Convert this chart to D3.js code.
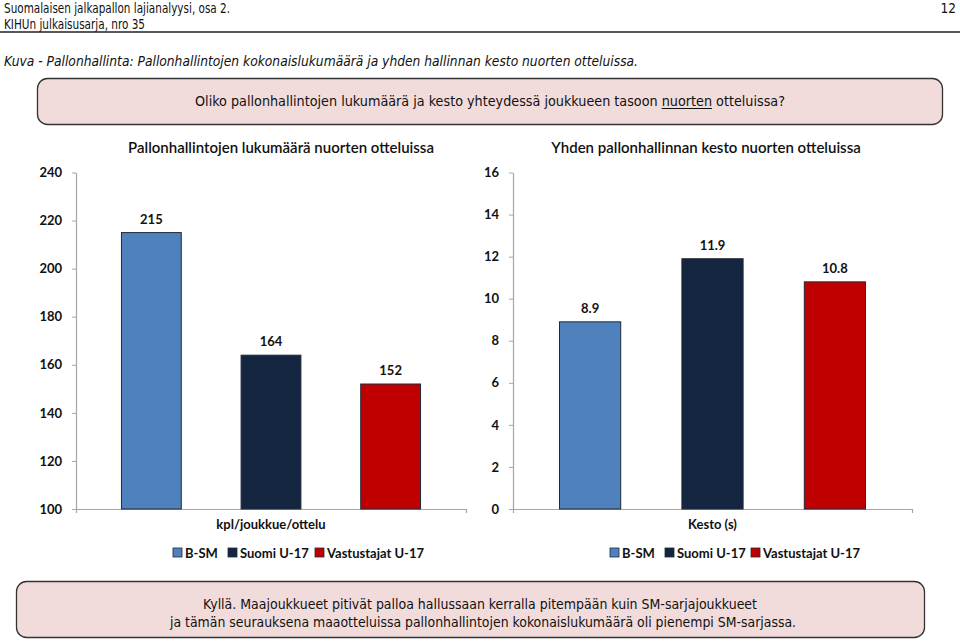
<!DOCTYPE html>
<html><head><meta charset="utf-8">
<script src="https://cdn.jsdelivr.net/npm/d3@7"></script>
<style>
body{margin:0;background:#fff;}
svg{display:block;}
.hdr{font-family:"DejaVu Sans Condensed","DejaVu Sans",sans-serif;fill:#111;}
.ch{font-family:Lato,"Open Sans",sans-serif;fill:#111;}
</style></head>
<body>
<script>
// ---- data ----
const series = ["B-SM", "Suomi U-17", "Vastustajat U-17"];
const colors = ["#4f81bd", "#14253f", "#c00000"];
const countValues = [215, 164, 152];
const durationValues = [8.9, 11.9, 10.8];
const countTicks = [100, 120, 140, 160, 180, 200, 220, 240];
const durationTicks = [0, 2, 4, 6, 8, 10, 12, 14, 16];
const leftTitle = "Pallonhallintojen lukumäärä nuorten otteluissa";
const rightTitle = "Yhden pallonhallinnan kesto nuorten otteluissa";
const leftAxisTitle = "kpl/joukkue/ottelu";
const rightAxisTitle = "Kesto (s)";

const W = 960, H = 641;
const svg = d3.select("body").append("svg").attr("width", W).attr("height", H);

// ---- page header ----
function fitText(sel, len){ sel.attr("textLength", len).attr("lengthAdjust","spacingAndGlyphs"); return sel; }
fitText(svg.append("text").attr("class","hdr").attr("x",4).attr("y",13).attr("font-size",13.5)
  .text("Suomalaisen jalkapallon lajianalyysi, osa 2."), 226);
fitText(svg.append("text").attr("class","hdr").attr("x",4).attr("y",29).attr("font-size",13.5)
  .text("KIHUn julkaisusarja, nro 35"), 141);
svg.append("text").attr("class","hdr").attr("x",956).attr("y",13).attr("font-size",13.5)
  .attr("text-anchor","end").text("12");
svg.append("line").attr("x1",0).attr("x2",W).attr("y1",32).attr("y2",32).attr("stroke","#222").attr("stroke-width",1.6);
fitText(svg.append("text").attr("class","hdr").attr("x",4).attr("y",66).attr("font-size",14)
  .attr("font-style","italic")
  .text("Kuva - Pallonhallinta: Pallonhallintojen kokonaislukumäärä ja yhden hallinnan kesto nuorten otteluissa."), 634);

// question box
svg.append("rect").attr("x",37.5).attr("y",78.5).attr("width",905).attr("height",46).attr("rx",10)
  .attr("fill","#f2dcdb").attr("stroke","#333").attr("stroke-width",1.3);
const qStr = "Oliko pallonhallintojen lukumäärä ja kesto yhteydessä joukkueen tasoon nuorten otteluissa?";
const q = svg.append("text").attr("class","hdr").attr("x",490).attr("y",106).attr("font-size",14.5)
  .attr("text-anchor","middle").text(qStr);
fitText(q, 590);
// underline the word "nuorten"
{
  const node = q.node();
  const i0 = qStr.indexOf("nuorten"), i1 = i0 + "nuorten".length - 1;
  const xs = node.getStartPositionOfChar(i0).x, xe = node.getEndPositionOfChar(i1).x;
  svg.append("line").attr("x1",xs).attr("x2",xe).attr("y1",108.5).attr("y2",108.5)
    .attr("stroke","#111").attr("stroke-width",1);
}

// answer box
svg.append("rect").attr("x",16.5).attr("y",581.5).attr("width",908).attr("height",56).attr("rx",10)
  .attr("fill","#f2dcdb").attr("stroke","#333").attr("stroke-width",1.3);
fitText(svg.append("text").attr("class","hdr").attr("x",480).attr("y",609).attr("font-size",14.5)
  .attr("text-anchor","middle")
  .text("Kyllä. Maajoukkueet pitivät palloa hallussaan kerralla pitempään kuin SM-sarjajoukkueet"), 554);
fitText(svg.append("text").attr("class","hdr").attr("x",483).attr("y",627).attr("font-size",14.5)
  .attr("text-anchor","middle")
  .text("ja tämän seurauksena maaotteluissa pallonhallintojen kokonaislukumäärä oli pienempi SM-sarjassa."), 626);

// ---- charts ----
function chart(opt){
  const g = svg.append("g");
  const y = d3.scaleLinear().domain(opt.domain).range([509, 172.5]);
  const x = d3.scaleBand().domain(series).range([opt.x0, opt.x1]).paddingInner(0.5).paddingOuter(0.38);
  // axis
  const ya = d3.axisLeft(y).tickValues(opt.ticks).tickSize(4).tickSizeOuter(0).tickPadding(10);
  const ag = g.append("g").attr("transform",`translate(${opt.x0},0)`).call(ya);
  ag.select(".domain").attr("stroke","#a6a6a6").attr("stroke-width",1.2);
  ag.selectAll(".tick line").attr("stroke","#a6a6a6");
  ag.selectAll(".tick text").attr("class","ch").attr("font-size",13).attr("font-weight",700).attr("fill","#111");
  // x axis line
  const xa = d3.axisBottom(d3.scaleLinear().domain([0,1]).range([opt.x0, opt.x1])).tickValues([]).tickSizeOuter(4);
  const xg = g.append("g").attr("transform",`translate(0,${y(opt.domain[0])})`).call(xa);
  xg.select(".domain").attr("stroke","#a6a6a6").attr("stroke-width",1.2);
  // bars
  g.selectAll("rect.bar").data(opt.values).join("rect").attr("class","bar")
    .attr("x",(d,i)=>x(series[i])).attr("width",x.bandwidth())
    .attr("y",d=>y(d)).attr("height",d=>y(opt.domain[0])-y(d))
    .attr("fill",(d,i)=>colors[i]).attr("stroke","#1f2a38").attr("stroke-width",1);
  g.selectAll("text.val").data(opt.values).join("text").attr("class","ch")
    .attr("x",(d,i)=>x(series[i])+x.bandwidth()/2).attr("y",d=>y(d)-9)
    .attr("text-anchor","middle").attr("font-size",13).attr("font-weight",700)
    .text(d=>opt.fmt(d));
  // titles
  g.append("text").attr("class","ch").attr("x",opt.titleX).attr("y",153).attr("text-anchor","middle")
    .attr("font-size",15).attr("font-weight",600).text(opt.title);
  g.append("text").attr("class","ch").attr("x",(opt.x0+opt.x1)/2).attr("y",529).attr("text-anchor","middle")
    .attr("font-size",13).attr("font-weight",700).text(opt.axisTitle);
  // legend
  const lg = g.append("g").attr("transform",`translate(0,553)`);
  opt.legendX.forEach((lx,i)=>{
    lg.append("rect").attr("x",lx).attr("y",-5).attr("width",9).attr("height",9)
      .attr("fill",colors[i]).attr("stroke","#1f2a38").attr("stroke-width",0.8);
    lg.append("text").attr("class","ch").attr("x",lx+12).attr("y",4.5).attr("font-size",13)
      .attr("font-weight",700).text(series[i]);
  });
}

chart({domain:[100,240], ticks:countTicks, values:countValues, x0:76, x1:466,
  title:leftTitle, titleX:281, axisTitle:leftAxisTitle, fmt:d3.format("d"), legendX:[173,228,315]});
chart({domain:[0,16], ticks:durationTicks, values:durationValues, x0:513, x1:912,
  title:rightTitle, titleX:706, axisTitle:rightAxisTitle, fmt:d3.format(".1f"), legendX:[610,665,751]});
</script>
</body></html>
